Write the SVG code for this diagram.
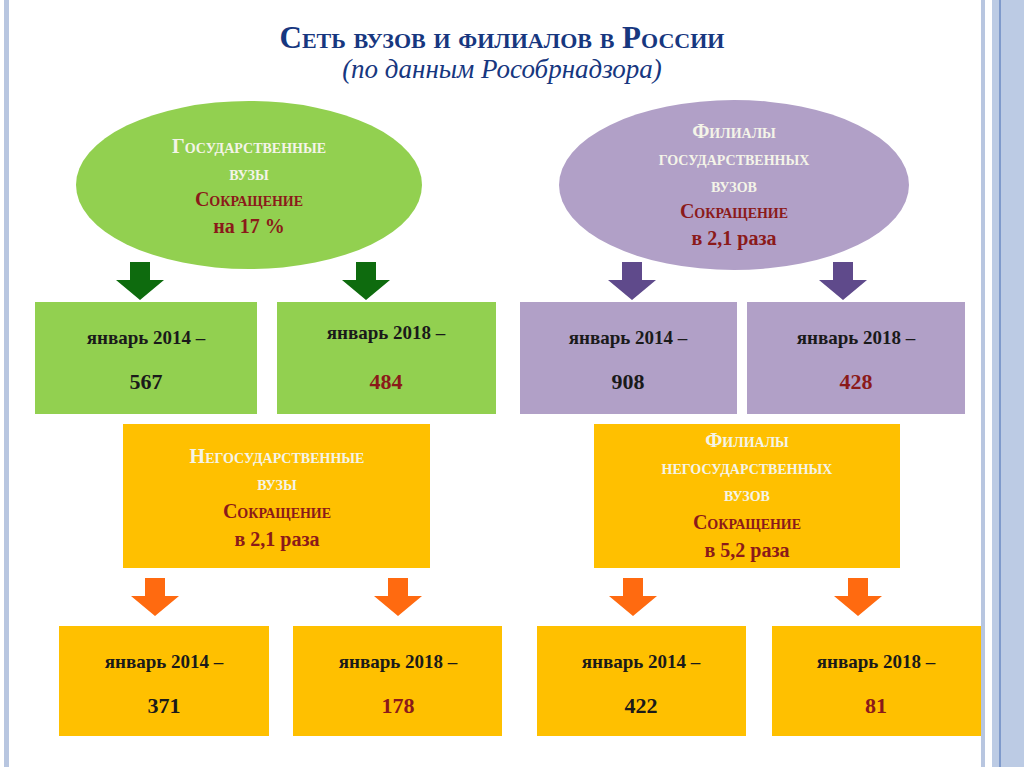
<svg xmlns="http://www.w3.org/2000/svg" width="1024" height="767" viewBox="0 0 1024 767">
<style>
text{font-family:"Liberation Serif","DejaVu Serif",serif;text-anchor:middle;font-weight:bold}
.sc{font-variant:small-caps;font-size:20px}
.w{fill:#f4f4e8}
.r{fill:#8b1a1a}
.k{fill:#1a1a1a}
.lab{font-size:19px;fill:#1a1a1a}
.num{font-size:22px}
.g{fill:#92d050}.p{fill:#b1a0c7}.o{fill:#ffc000}
</style>
<defs>
<path id="arr" d="M-10,0 H10 V18 H24 L0,38 L-24,18 H-10 Z"/>
</defs>
<rect width="1024" height="767" fill="#fff"/>
<rect x="4" y="0" width="5" height="767" fill="#b8c6e0"/>
<rect x="981" y="0" width="4" height="767" fill="#b8c6e0"/>
<rect x="992" y="0" width="32" height="767" fill="#bccbe4"/>
<rect x="999" y="0" width="2" height="767" fill="#7f9acb"/>
<text x="502" y="48" style="font-variant:small-caps;font-size:31px" fill="#17377f">Сеть вузов и филиалов в России</text>
<text x="502" y="78" style="font-style:italic;font-weight:normal;font-size:27px" fill="#17377f">(по данным Рособрнадзора)</text>
<g id="connectors">
<use href="#arr" x="140" y="262" fill="#0e6b0e"/>
<use href="#arr" x="366" y="262" fill="#0e6b0e"/>
<use href="#arr" x="632" y="262" fill="#5f4a8b"/>
<use href="#arr" x="843" y="262" fill="#5f4a8b"/>
<use href="#arr" x="155" y="578" fill="#ff6a10"/>
<use href="#arr" x="398" y="578" fill="#ff6a10"/>
<use href="#arr" x="633" y="578" fill="#ff6a10"/>
<use href="#arr" x="858" y="578" fill="#ff6a10"/>
</g>
<g id="gov">
<ellipse cx="249" cy="185" rx="173" ry="84" class="g"/>
<text x="249" y="153" class="sc w">Государственные</text>
<text x="249" y="180" class="sc w">вузы</text>
<text x="249" y="206" class="sc r">Сокращение</text>
<text x="249" y="233" class="r" font-size="20">на 17 %</text>
</g>
<g id="govfil">
<ellipse cx="734" cy="185" rx="175" ry="85" class="p"/>
<text x="734" y="138" class="sc w">Филиалы</text>
<text x="734" y="165" class="sc w">государственных</text>
<text x="734" y="192" class="sc w">вузов</text>
<text x="734" y="218" class="sc r">Сокращение</text>
<text x="734" y="245" class="r" font-size="20">в 2,1 раза</text>
</g>
<g id="b1"><rect x="35" y="302" width="222" height="112" class="g"/>
<text x="146" y="344" class="lab">январь  2014   –</text><text x="146" y="389" class="num k">567</text></g>
<g id="b2"><rect x="277" y="302" width="219" height="112" class="g"/>
<text x="386" y="339" class="lab">январь  2018   –</text><text x="386" y="389" class="num r">484</text></g>
<g id="b3"><rect x="520" y="302" width="217" height="112" class="p"/>
<text x="628" y="344" class="lab">январь  2014   –</text><text x="628" y="389" class="num k">908</text></g>
<g id="b4"><rect x="747" y="302" width="218" height="112" class="p"/>
<text x="856" y="344" class="lab">январь  2018   –</text><text x="856" y="389" class="num r">428</text></g>
<g id="nongov"><rect x="123" y="424" width="307" height="144" class="o"/>
<text x="277" y="463" class="sc w">Негосударственные</text>
<text x="277" y="490" class="sc w">вузы</text>
<text x="277" y="518" class="sc r">Сокращение</text>
<text x="277" y="546" class="r" font-size="20">в 2,1 раза</text></g>
<g id="nongovfil"><rect x="594" y="424" width="306" height="144" class="o"/>
<text x="747" y="447" class="sc w">Филиалы</text>
<text x="747" y="474" class="sc w">негосударственных</text>
<text x="747" y="501" class="sc w">вузов</text>
<text x="747" y="529" class="sc r">Сокращение</text>
<text x="747" y="557" class="r" font-size="20">в 5,2 раза</text></g>
<g id="c1"><rect x="59" y="626" width="210" height="110" class="o"/>
<text x="164" y="668" class="lab">январь  2014   –</text><text x="164" y="713" class="num k">371</text></g>
<g id="c2"><rect x="293" y="626" width="209" height="110" class="o"/>
<text x="398" y="668" class="lab">январь  2018   –</text><text x="398" y="713" class="num r">178</text></g>
<g id="c3"><rect x="537" y="626" width="209" height="110" class="o"/>
<text x="641" y="668" class="lab">январь  2014   –</text><text x="641" y="713" class="num k">422</text></g>
<g id="c4"><rect x="772" y="626" width="209" height="110" class="o"/>
<text x="876" y="668" class="lab">январь  2018   –</text><text x="876" y="713" class="num r">81</text></g>
</svg>
